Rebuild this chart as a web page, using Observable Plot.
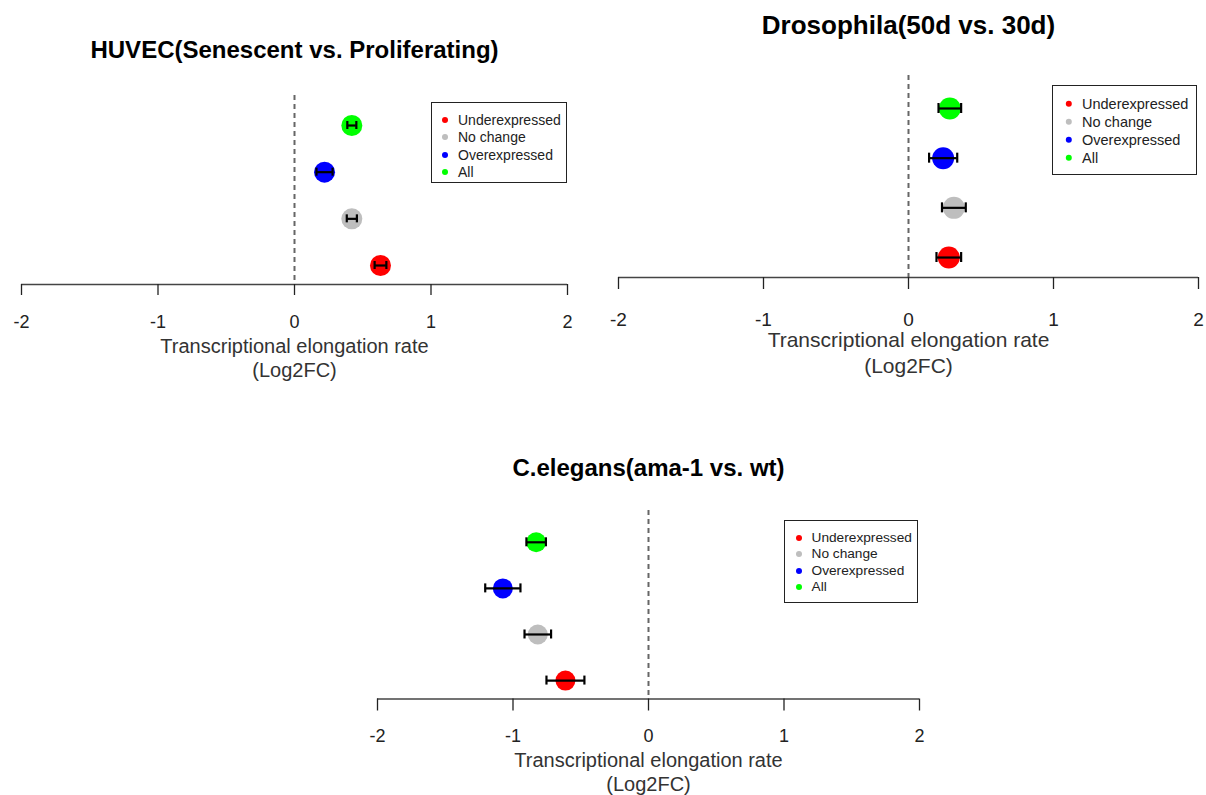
<!DOCTYPE html>
<html><head><meta charset="utf-8">
<script src="https://cdn.jsdelivr.net/npm/d3@7"></script>
<script src="https://cdn.jsdelivr.net/npm/@observablehq/plot@0.6"></script>
<style>
body{margin:0;background:#fff;font-family:"Liberation Sans",Arial,sans-serif;}
#root{position:relative;width:1206px;height:795px;overflow:hidden;background:#fff;}
.panel{position:absolute;}
.legend{position:absolute;border:1px solid #222;box-sizing:border-box;background:#fff;}
.legend .item{position:absolute;white-space:nowrap;color:#222;transform:translateY(-50%);line-height:1;}
.legend .dot{position:absolute;border-radius:50%;transform:translate(-50%,-50%);}
</style></head><body><div id="root"></div>
<script>
// ---- data ----
const categories = ["Underexpressed", "No change", "Overexpressed", "All"];
const colors = ["#FF0000", "#BEBEBE", "#0000FF", "#00FF00"];
const ticks = [-2, -1, 0, 1, 2];
const axisTitle = "Transcriptional elongation rate\n(Log2FC)";
const titles = ["HUVEC(Senescent vs. Proliferating)", "Drosophila(50d vs. 30d)", "C.elegans(ama-1 vs. wt)"];
const huvecMean = [0.63, 0.42, 0.22, 0.42];
const huvecErr = [0.043, 0.037, 0.059, 0.033];
const drosMean = [0.278, 0.313, 0.239, 0.285];
const drosErr = [0.085, 0.082, 0.097, 0.078];
const celeMean = [-0.613, -0.817, -1.075, -0.829];
const celeErr = [0.14, 0.098, 0.13, 0.072];

// ---- layout ----
const layouts = [
  {left:0, top:0, width:600, height:400, ml:21, mr:33, mt:95, mb:116, yDomain:[0.593, 4.643], r:10.5, cap:4,
   tickSize:11, tickPadding:20, tickFont:18, labelFont:20, titleFont:24, titleDy:-38, labelDy:51,
   legend:{left:431, top:102, width:136, height:81, dotX:13, textX:26, firstY:17, step:17.3, font:14, dotR:3}},
  {left:600, top:0, width:606, height:400, ml:18, mr:8, mt:75, mb:123, yDomain:[0.598, 4.664], r:11, cap:5,
   tickSize:12, tickPadding:23, tickFont:19, labelFont:21, titleFont:26, titleDy:-42, labelDy:52,
   legend:{left:1052, top:85, width:145, height:90, dotX:16, textX:29, firstY:18, step:18, font:14.5, dotR:3.2}},
  {left:300, top:400, width:640, height:395, ml:77, mr:21, mt:110, mb:96.5, yDomain:[0.6, 4.69], r:10, cap:4.5,
   tickSize:12, tickPadding:18.5, tickFont:18, labelFont:20, titleFont:24, titleDy:-35, labelDy:50.5,
   legend:{left:784, top:520, width:134, height:83, dotX:14, textX:26.5, firstY:16.5, step:16.5, font:13.7, dotR:3}}
];
const series = [[huvecMean, huvecErr], [drosMean, drosErr], [celeMean, celeErr]];
const root = document.getElementById("root");
const FONT = '"Liberation Sans", Arial, sans-serif';

layouts.forEach((L, k) => {
  const [mean, err] = series[k];
  const data = categories.map((c, i) => ({cat: c, pos: i + 1, m: mean[i], lo: mean[i] - err[i], hi: mean[i] + err[i], color: colors[i]}));
  const plot = Plot.plot({
    width: L.width, height: L.height,
    marginLeft: L.ml, marginRight: L.mr, marginTop: L.mt, marginBottom: L.mb,
    x: {domain: [-2, 2], axis: null},
    y: {domain: L.yDomain, axis: null},
    color: {type: "identity"},
    style: {fontFamily: FONT, background: "transparent", overflow: "visible"},
    marks: [
      Plot.ruleX([0], {stroke: "#666", strokeWidth: 2, strokeDasharray: "5,4"}),
      Plot.ruleY([L.yDomain[0]], {x1: -2, x2: 2, stroke: "#444", strokeWidth: 1.3}),
      Plot.axisX({ticks, tickSize: L.tickSize, tickPadding: L.tickPadding, fontSize: L.tickFont, label: null, color: "#222", strokeWidth: 1.3, tickFormat: d => String(d)}),
      Plot.dot(data, {x: "m", y: "pos", r: L.r, fill: d => d.color}),
      Plot.ruleY(data, {y: "pos", x1: "lo", x2: "hi", stroke: "#000", strokeWidth: 2.2}),
      Plot.ruleX(data, {x: "lo", y1: "pos", y2: "pos", insetTop: -L.cap, insetBottom: -L.cap, stroke: "#000", strokeWidth: 2.2}),
      Plot.ruleX(data, {x: "hi", y1: "pos", y2: "pos", insetTop: -L.cap, insetBottom: -L.cap, stroke: "#000", strokeWidth: 2.2}),
      Plot.text([titles[k]], {x: () => 0, text: d => d, frameAnchor: "top", lineAnchor: "bottom", dy: L.titleDy, fontSize: L.titleFont, fontWeight: "bold", fill: "#000"}),
      Plot.text([axisTitle], {x: () => 0, text: d => d, frameAnchor: "bottom", lineAnchor: "top", lineHeight: 1.2, dy: L.labelDy, fontSize: L.labelFont, fill: "#333"})
    ]
  });
  const wrap = document.createElement("div");
  wrap.className = "panel";
  wrap.style.left = L.left + "px";
  wrap.style.top = L.top + "px";
  wrap.appendChild(plot);
  root.appendChild(wrap);

  // legend
  const G = L.legend;
  const box = document.createElement("div");
  box.className = "legend";
  Object.assign(box.style, {left: G.left + "px", top: G.top + "px", width: G.width + "px", height: G.height + "px"});
  categories.forEach((c, i) => {
    const dot = document.createElement("div");
    dot.className = "dot";
    Object.assign(dot.style, {left: G.dotX + "px", top: (G.firstY + i * G.step) + "px", width: 2 * G.dotR + "px", height: 2 * G.dotR + "px", background: colors[i]});
    const t = document.createElement("div");
    t.className = "item";
    t.textContent = c;
    Object.assign(t.style, {left: G.textX + "px", top: (G.firstY + i * G.step) + "px", fontSize: G.font + "px"});
    box.appendChild(dot);
    box.appendChild(t);
  });
  root.appendChild(box);
});
</script></body></html>
